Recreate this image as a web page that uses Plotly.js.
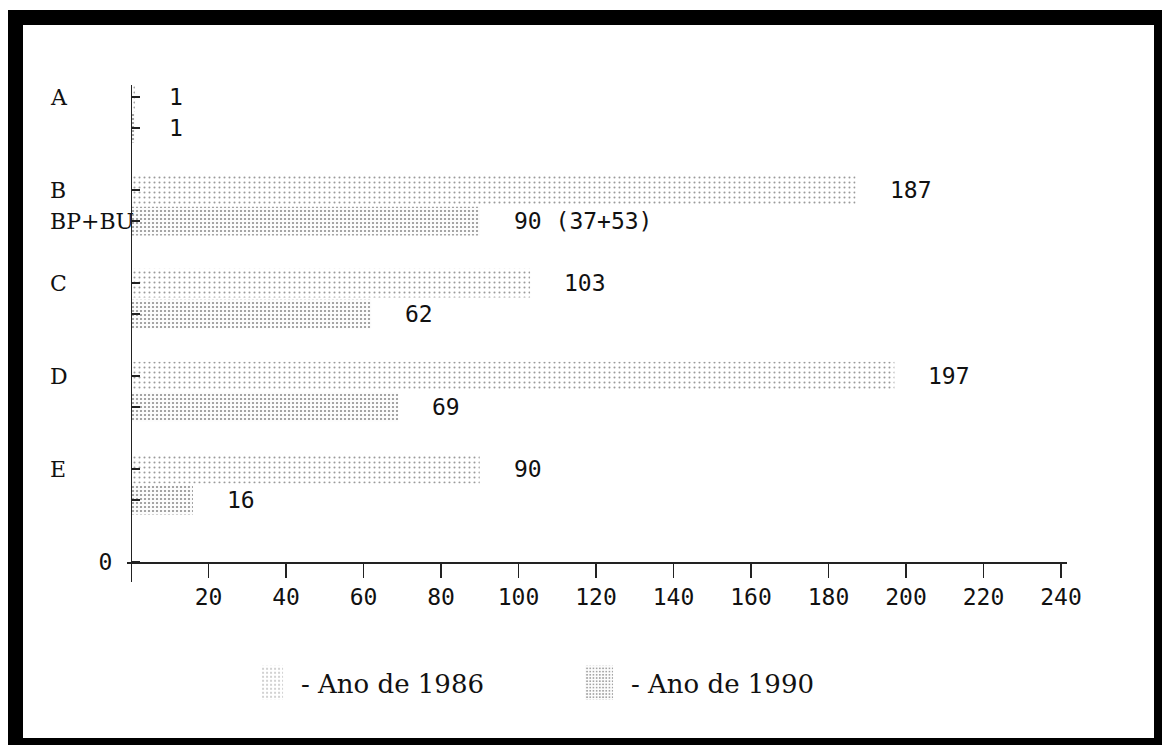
<!DOCTYPE html>
<html><head><meta charset="utf-8">
<script src="https://cdn.plot.ly/plotly-3.0.1.min.js"></script>
<style>
html,body{margin:0;padding:0;background:#fff;}
#chart{position:absolute;left:0;top:0;width:1164px;height:745px;}
#frame{position:absolute;left:8px;top:10px;width:1154px;height:735px;box-sizing:border-box;border-style:solid;border-color:#000;border-width:15px 8px 7px 15px;pointer-events:none;}
</style></head><body>
<div id="chart"></div><div id="frame"></div>
<script>
// ---- data ----
const categories = ['A', 'B', 'C', 'D', 'E'];
const lowerCategoryLabels = ['', 'BP+BU', '', '', ''];
const values1986 = [1, 187, 103, 197, 90];
const values1990 = [1, 90, 62, 69, 16];
const labels1986 = ['1', '187', '103', '197', '90'];
const labels1990 = ['1', '90 (37+53)', '62', '69', '16'];
const xTickValues = [20, 40, 60, 80, 100, 120, 140, 160, 180, 200, 220, 240];
const seriesNames = ['- Ano de 1986', '- Ano de 1990'];

// ---- layout helpers ----
const n = categories.length;
const upperPos = categories.map((c, i) => 3 * (n - i));
const lowerPos = upperPos.map(p => p - 1);

const numFont = {family: 'DejaVu Sans Mono, monospace', size: 23, color: '#111'};
const catFont = {family: 'DejaVu Serif, serif', size: 22, color: '#111'};

const trace1986 = {
  type: 'bar', orientation: 'h', name: seriesNames[0],
  x: values1986, y: upperPos, width: 0.93,
  marker: {color: '#ffffff', line: {width: 0},
    pattern: {shape: '.', fgcolor: '#9a9a9a', bgcolor: '#ffffff', size: 5, solidity: 0.13}},
  hoverinfo: 'skip'
};
const trace1990 = {
  type: 'bar', orientation: 'h', name: seriesNames[1],
  x: values1990, y: lowerPos, width: 0.93,
  marker: {color: '#ffffff', line: {width: 0},
    pattern: {shape: '.', fgcolor: '#909090', bgcolor: '#fcfcfc', size: 4, solidity: 0.24}},
  hoverinfo: 'skip'
};

const annotations = [];
categories.forEach((c, i) => {
  annotations.push({xref: 'paper', yref: 'y', x: -0.084, y: upperPos[i], text: c,
    xanchor: 'left', yanchor: 'middle', showarrow: false, font: catFont});
  if (lowerCategoryLabels[i]) {
    annotations.push({xref: 'paper', yref: 'y', x: -0.084, y: lowerPos[i], text: lowerCategoryLabels[i],
      xanchor: 'left', yanchor: 'middle', showarrow: false, font: catFont});
  }
  annotations.push({xref: 'x', yref: 'y', x: values1986[i], y: upperPos[i], text: labels1986[i],
    xanchor: 'left', yanchor: 'middle', xshift: 32, showarrow: false, font: numFont});
  annotations.push({xref: 'x', yref: 'y', x: values1990[i], y: lowerPos[i], text: labels1990[i],
    xanchor: 'left', yanchor: 'middle', xshift: 32, showarrow: false, font: numFont});
});

const yTickVals = [0].concat(upperPos, lowerPos);
const yTickText = yTickVals.map(v => v === 0 ? '0' : '');

const layout = {
  width: 1164, height: 745,
  margin: {l: 127, r: 97, t: 85, b: 163, pad: 0},
  paper_bgcolor: '#ffffff', plot_bgcolor: '#ffffff',
  barmode: 'overlay',
  showlegend: true,
  xaxis: {
    range: [-1.03, 241.55], anchor: 'free', position: 0.0402,
    showline: true, linecolor: '#222', linewidth: 1.5,
    ticks: 'outside', ticklen: 14, tickwidth: 1.5, tickcolor: '#222',
    tickmode: 'array', tickvals: xTickValues,
    tickfont: numFont, showgrid: false, zeroline: false, fixedrange: true
  },
  yaxis: {
    range: [-0.645, 15.39], anchor: 'free', position: 0.00425,
    showline: true, linecolor: '#222', linewidth: 1.5,
    ticks: 'inside', ticklen: 8, tickwidth: 1.5, tickcolor: '#222',
    tickmode: 'array', tickvals: yTickVals, ticktext: yTickText,
    ticklabelstandoff: 14,
    tickfont: numFont, showgrid: false, zeroline: false, fixedrange: true
  },
  legend: {
    orientation: 'h', x: 0.1426, xanchor: 'left', y: -0.203, yanchor: 'middle',
    font: {family: 'DejaVu Serif, serif', size: 26, color: '#111'},
    entrywidth: 285, entrywidthmode: 'pixels', bgcolor: 'rgba(0,0,0,0)',
    itemclick: false, itemdoubleclick: false, traceorder: 'normal'
  },
  annotations: annotations
};

Plotly.newPlot('chart', [trace1986, trace1990], layout, {displayModeBar: false, staticPlot: true})
  .then(gd => {
    gd.querySelectorAll('.legend .legendpoints path').forEach(p => {
      p.setAttribute('d', 'M2,17H-26V-17H2Z');
    });
  });
</script>
</body></html>
